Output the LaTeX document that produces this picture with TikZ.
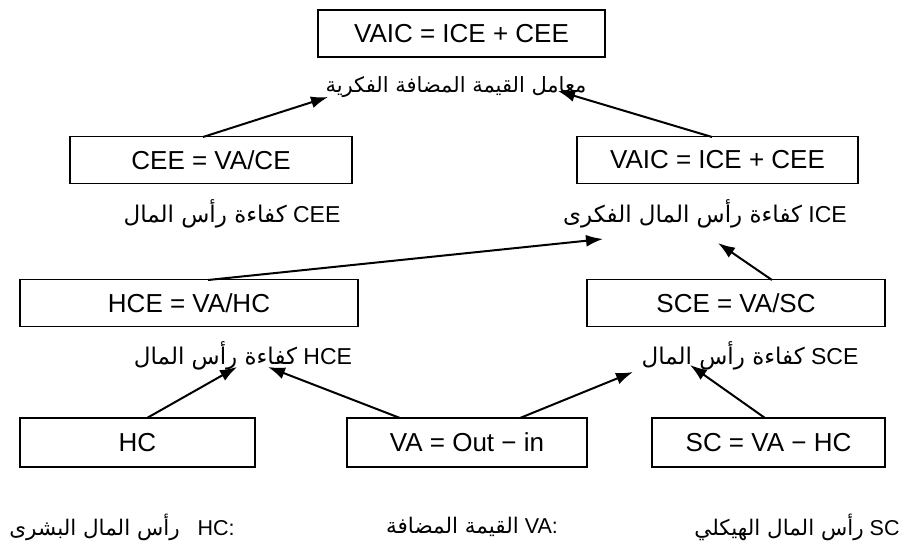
\documentclass[tikz,border=0pt]{standalone}
\usepackage{fontspec}
\setmainfont{Liberation Sans}
\newfontfamily\arabicfont[Script=Arabic]{DejaVu Sans}
\TeXXeTstate=1
\usetikzlibrary{arrows.meta}
\newcommand\artxt[1]{{\arabicfont\beginR #1\endR}}
\begin{document}
\begin{tikzpicture}[x=1pt,y=-1pt,
  box/.style={draw, line width=1.2pt, minimum height=47pt, inner sep=0pt,
              font=\fontsize{26}{30}\selectfont},
  lbl/.style={inner sep=0pt, font=\fontsize{23}{27}\selectfont},
  blbl/.style={inner sep=0pt, font=\fontsize{21.5}{25}\selectfont},
  arr/.style={line width=2pt, -{Latex[length=17pt,width=12pt]}}]
\useasboundingbox (0,0) rectangle (905,544);
\fill[white] (0,0) rectangle (905,544);

% boxes
\node[box, minimum width=287pt] (top) at (461.5,33.5) {VAIC = ICE + CEE};
\node[box, minimum width=282pt] (cee) at (211,160) {CEE = VA/CE};
\node[box, minimum width=281pt] (ice) at (717.5,160) {VAIC = ICE + CEE};
\node[box, minimum width=338pt] (hce) at (189,303) {HCE = VA/HC};
\node[box, minimum width=298pt] (sce) at (736,303) {SCE = VA/SC};
\node[box, minimum width=235pt, minimum height=49pt] (hc) at (137.5,442.5) {HC};
\node[box, minimum width=240pt, minimum height=49pt] (va) at (467,442.5) {VA = Out − in};
\node[box, minimum width=233pt, minimum height=49pt] (sc) at (768.5,442.5) {SC = VA − HC};

% labels
\node[lbl] (ltop) at (456,87) {{\fontsize{21}{25}\selectfont\artxt{معامل القيمة المضافة الفكرية}}};
\node[lbl] (lcee) at (232,214) {\artxt{كفاءة رأس المال} CEE};
\node[lbl] (lice) at (705,214) {\artxt{كفاءة رأس المال الفكرى} ICE};
\node[lbl] (lhce) at (243,356) {\artxt{كفاءة رأس المال} HCE};
\node[lbl] (lsce) at (750,356) {\artxt{كفاءة رأس المال} SCE};
\node[blbl] (lhc) at (122,527) {\artxt{رأس المال البشرى}\ \ \ HC:};
\node[blbl] (lva) at (472,527) {\artxt{القيمة المضافة} VA:};
\node[blbl] (lsc) at (797,527) {\artxt{رأس المال الهيكلي} SC};

% arrow end points
\coordinate (s1) at (203,137);  \coordinate (e1) at (328,97);
\coordinate (s2) at (712,137);  \coordinate (e2) at (558,91);
\coordinate (s3) at (208,280);  \coordinate (e3) at (603,239);
\coordinate (s4) at (772,280);  \coordinate (e4) at (718,243);
\coordinate (s5) at (147,418);  \coordinate (e5) at (237,367);
\coordinate (s6) at (400,418);  \coordinate (e6) at (268,367);
\coordinate (s7) at (520,418);  \coordinate (e7) at (633,372);
\coordinate (s8) at (765,418);  \coordinate (e8) at (690,365);

\draw[arr] (s1) -- (e1);
\draw[arr] (s2) -- (e2);
\draw[arr] (s3) -- (e3);
\draw[arr] (s4) -- (e4);
\draw[arr] (s5) -- (e5);
\draw[arr] (s6) -- (e6);
\draw[arr] (s7) -- (e7);
\draw[arr] (s8) -- (e8);
\end{tikzpicture}
\end{document}
